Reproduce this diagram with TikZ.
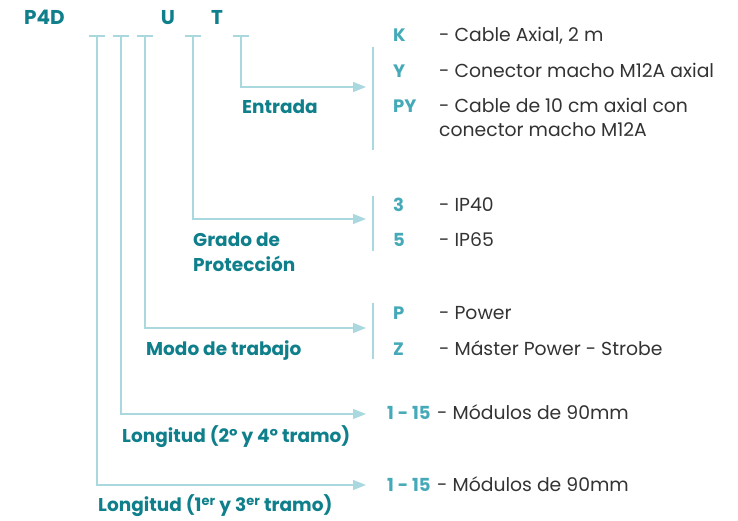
\documentclass[tikz,border=0pt]{standalone}
\usepackage{fontspec}
\setmainfont{Poppins}
\usetikzlibrary{arrows.meta}
\definecolor{dteal}{HTML}{0E7F8B}
\definecolor{lteal}{HTML}{45A9B8}
\definecolor{lline}{HTML}{A9D8DF}
\definecolor{dtext}{HTML}{333333}
\tikzset{
  lbl/.style={anchor=base west, inner sep=0pt, text=dteal, font=\fontsize{18.5}{20}\selectfont\bfseries},
  hdr/.style={anchor=base west, inner sep=0pt, text=dteal, font=\fontsize{20}{22}\selectfont\bfseries},
  code/.style={anchor=base west, inner sep=0pt, text=lteal, font=\fontsize{18}{20}\selectfont\bfseries},
  desc/.style={anchor=base west, inner sep=0pt, text=dtext, font=\fontsize{18.8}{20}\selectfont},
  conn/.style={draw=lline, line width=1.3pt, -{Triangle[length=13pt,width=10pt]}},
  tick/.style={draw=lline, line width=1.3pt},
  bar/.style={draw=lline, line width=1.3pt},
}
\begin{document}
\begin{tikzpicture}[x=1pt,y=-1pt]
\useasboundingbox (0,0) rectangle (738,520);
% header
\node[hdr] (p4d) at (24,24) {P4D};
\node[hdr, anchor=base] (u) at (168,24) {U};
\node[hdr, anchor=base] (t) at (217,24) {T};
% ticks
\foreach \n/\x in {a/97,b/121,c/145,d/193,e/241}{
  \coordinate (t\n) at (\x,36);
  \draw[tick] (\x-8,36) -- (\x+8,36);
}
% arrow ends
\coordinate (ee) at (366,87);
\coordinate (ed) at (366,219);
\coordinate (ec) at (366,328);
\coordinate (eb) at (366,414);
\coordinate (ea) at (366,485);
\draw[conn] (te) |- (ee);
\draw[conn] (td) |- (ed);
\draw[conn] (tc) |- (ec);
\draw[conn] (tb) |- (eb);
\draw[conn] (ta) |- (ea);
% bars
\draw[bar] (373,47) -- (373,150);
\draw[bar] (373,196) -- (373,251);
\draw[bar] (373,303) -- (373,359);
% labels
\node[lbl] (entrada) at (242,113.5) {Entrada};
\node[lbl] (grado) at (193,246.5) {Grado de};
\node[lbl] (prot) at (193,271.5) {Protección};
\node[lbl] (modo) at (146,355.5) {Modo de trabajo};
\node[lbl] (long2) at (122,442.5) {Longitud (2º y 4º tramo)};
\node[lbl] (long1) at (98,511.5) {Longitud (1\textsuperscript{er} y 3\textsuperscript{er} tramo)};
% codes
\node[code] (k) at (393,41.5) {K};
\node[code] (y) at (393,77.5) {Y};
\node[code] (py) at (393,112.5) {PY};
\node[code] (c3) at (393,211.5) {3};
\node[code] (c5) at (393,246.5) {5};
\node[code] (cp) at (393,319.5) {P};
\node[code] (cz) at (393,355.5) {Z};
\node[code] (r2) at (387,419.5) {1 - 15};
\node[code] (r1) at (387,491.5) {1 - 15};
% descriptions
\node[desc] (dk) at (439,41.5) {- Cable Axial, 2 m};
\node[desc] (dy) at (439,77.5) {- Conector macho M12A axial};
\node[desc] (dpy) at (439,112.5) {- Cable de 10 cm axial con};
\node[desc] (dpy2) at (439,136.5) {conector macho M12A};
\node[desc] (d3) at (439,211.5) {- IP40};
\node[desc] (d5) at (439,246.5) {- IP65};
\node[desc] (dp) at (439,319.5) {- Power};
\node[desc] (dz) at (439,355.5) {- Máster Power - Strobe};
\node[desc] (dr2) at (437,419.5) {- Módulos de 90mm};
\node[desc] (dr1) at (437,491.5) {- Módulos de 90mm};
\end{tikzpicture}
\end{document}
